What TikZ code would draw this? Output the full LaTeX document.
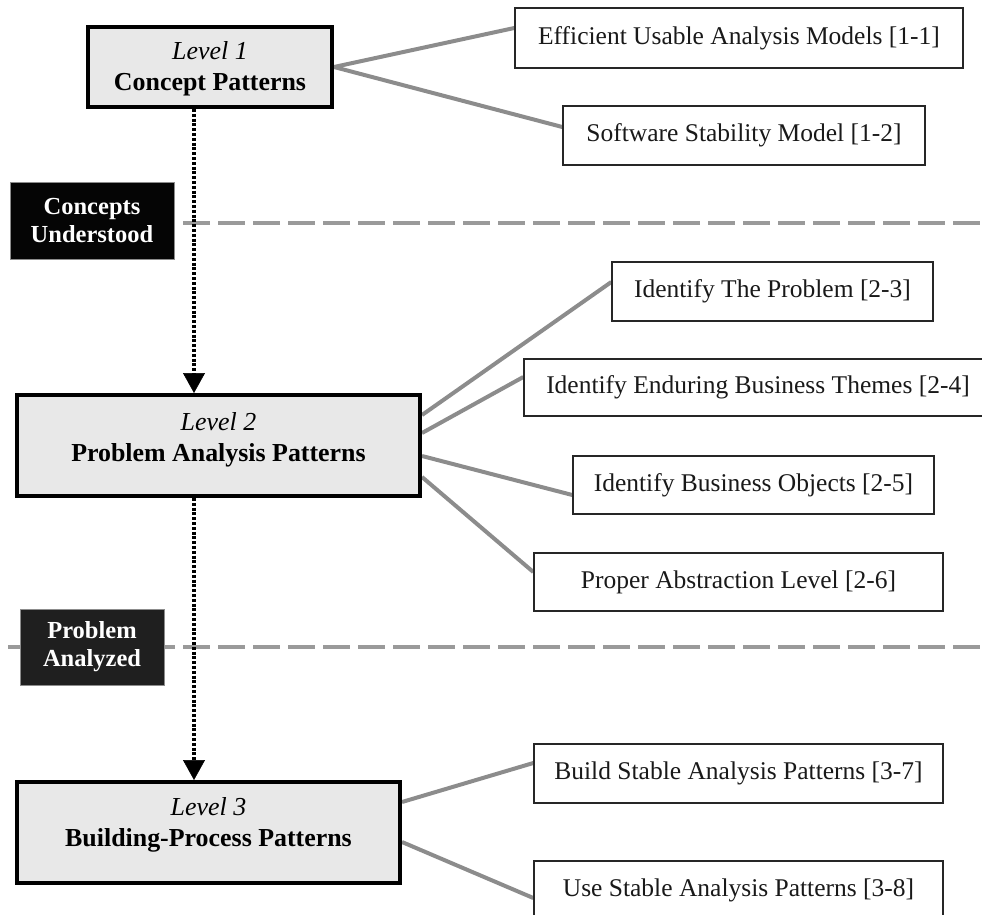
\documentclass[tikz,border=0pt]{standalone}
\usepackage{fontspec}
\setmainfont{Liberation Serif}
\usetikzlibrary{arrows.meta,calc}
\pgfdeclarelayer{bg}
\pgfsetlayers{bg,main}
\definecolor{levelfill}{HTML}{E8E8E8}
\definecolor{linkgray}{HTML}{8C8C8C}
\definecolor{rulegray}{HTML}{9A9A9A}
\definecolor{tagfill}{HTML}{050505}
\begin{document}
\begin{tikzpicture}[x=1pt,y=-1pt,
  levelbox/.style={draw=black, line width=4pt, fill=levelfill, inner sep=0pt},
  leveltext/.style={align=center, inner sep=0pt,
    font=\fontsize{25.9}{30.5}\selectfont},
  itembox/.style={draw=black!85, line width=1.4pt, fill=white, inner sep=0pt,
    minimum height=58pt, font=\fontsize{25.5}{30}\selectfont, text=black!90},
  tagbox/.style={fill=tagfill, draw=black!45, line width=0.8pt, text=white,
    align=center, inner sep=0pt,
    font=\fontsize{24.5}{28}\selectfont\bfseries},
  link/.style={draw=linkgray, line width=4pt},
  stage/.style={draw=rulegray, line width=4pt, dash pattern=on 27pt off 8pt},
  flow/.style={draw=black, line width=4pt, dash pattern=on 3pt off 1.8pt,
    -{Triangle[width=22pt,length=20pt,line width=0.5pt]}}
]
\useasboundingbox (0,0) rectangle (982,915);
\clip (0,0) rectangle (982,915);

% stage separators
\coordinate (r1a) at (10,223);  \coordinate (r1b) at (982,223);
\coordinate (r2a) at (8,647);   \coordinate (r2b) at (982,647);
\draw[stage, dash phase=2pt] (r1a) -- (r1b);
\draw[stage] (r2a) -- (r2b);

% level boxes
\node[levelbox, minimum width=244pt, minimum height=80pt] (L1) at (210,67) {};
\node[levelbox, minimum width=403pt, minimum height=101pt] (L2) at (218.5,445.5) {};
\node[levelbox, minimum width=383pt, minimum height=101pt] (L3) at (208.5,832.5) {};
\node[leveltext] (L1t) at (210,69) {\textit{Level 1}\\\textbf{Concept Patterns}};
\node[leveltext] (L2t) at (218.5,440) {\textit{Level 2}\\\textbf{Problem Analysis Patterns}};
\node[leveltext] (L3t) at (208.5,825) {\textit{Level 3}\\\textbf{Building-Process Patterns}};

% stage tags
\node[tagbox, minimum width=164pt, minimum height=77pt] (T1) at (92,220.5) {Concepts\\Understood};
\node[tagbox, fill=black!88, minimum width=144pt, minimum height=76pt] (T2) at (92,647) {Problem\\Analyzed};

% pattern boxes
\node[itembox, minimum width=448pt, minimum height=60pt] (P11) at (739,38) {Efficient Usable Analysis Models [1-1]};
\node[itembox, minimum width=362pt, minimum height=59pt] (P12) at (744,135.5) {Software Stability Model [1-2]};
\node[itembox, minimum width=321pt, minimum height=59pt] (P23) at (772.5,291.5) {Identify The Problem [2-3]};
\node[itembox, minimum width=468pt, minimum height=57pt] (P24) at (758,387.5) {Identify Enduring Business Themes [2-4]};
\node[itembox, minimum width=361pt] (P25) at (753.5,485) {Identify Business Objects [2-5]};
\node[itembox, minimum width=409pt] (P26) at (738.5,582) {Proper Abstraction Level [2-6]};
\node[itembox, minimum width=409pt, minimum height=59pt] (P37) at (738.5,773.5) {Build Stable Analysis Patterns [3-7]};
\node[itembox, minimum width=409pt, minimum height=59pt] (P38) at (738.5,890.5) {Use Stable Analysis Patterns [3-8]};

% links from each level to its patterns (yshift is upward on the page)
\begin{pgfonlayer}{bg}
\draw[link] (L1.east) -- ([yshift=10pt]P11.west);
\draw[link] (L1.east) -- ([yshift=8.5pt]P12.west);
\draw[link] ([yshift=30.5pt]L2.east) -- ([yshift=9.5pt]P23.west);
\draw[link] ([yshift=12.5pt]L2.east) -- ([yshift=10.5pt]P24.west);
\draw[link] ([yshift=-10.5pt]L2.east) -- ([yshift=-10pt]P25.west);
\draw[link] ([yshift=-31.5pt]L2.east) -- ([yshift=10pt]P26.west);
\draw[link] ([yshift=30.5pt]L3.east) -- ([yshift=10.5pt]P37.west);
\draw[link] ([yshift=-9.5pt]L3.east) -- ([yshift=-7.5pt]P38.west);
\end{pgfonlayer}

% progression between levels
\coordinate (axis) at (194,0);
\draw[flow] (L1.south -| axis) -- (L2.north -| axis);
\draw[flow] (L2.south -| axis) -- (L3.north -| axis);
\end{tikzpicture}
\end{document}
